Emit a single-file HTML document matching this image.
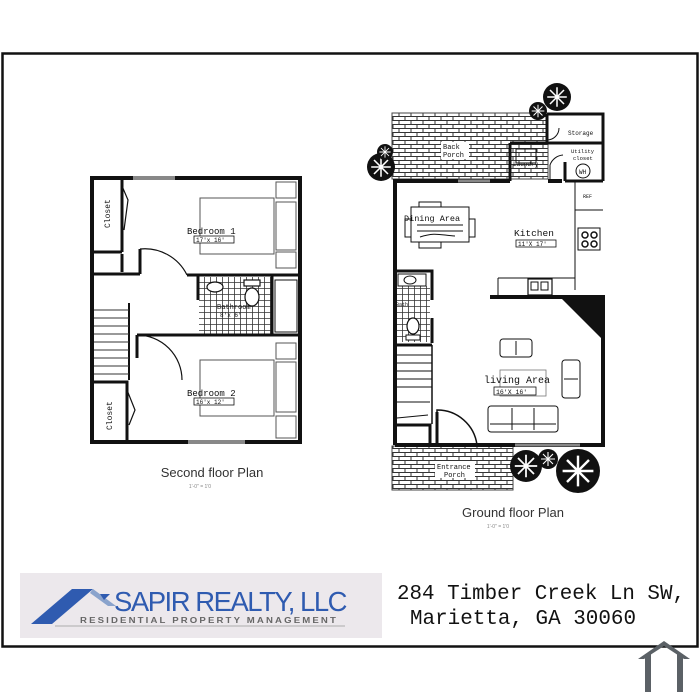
<!DOCTYPE html>
<html><head><meta charset="utf-8"><style>
html,body{margin:0;padding:0;background:#fff;width:700px;height:700px;overflow:hidden}
svg{display:block}
.m{font-family:"Liberation Mono",monospace;}
.s{font-family:"Liberation Sans",sans-serif;}
</style></head><body>
<svg width="700" height="700" viewBox="0 0 700 700" xmlns="http://www.w3.org/2000/svg">
<defs>
<pattern id="brick" width="12" height="8" patternUnits="userSpaceOnUse">
<rect width="12" height="8" fill="#fff"/>
<path d="M0 0.5H12M0 4.5H12M3 0.5V4.5M9 4.5V8" stroke="#333" stroke-width="1" fill="none"/>
</pattern>
<pattern id="tile" width="6" height="6" patternUnits="userSpaceOnUse">
<rect width="6" height="6" fill="#fff"/>
<path d="M0 0.5H6M0.5 0V6" stroke="#333" stroke-width="0.8"/>
</pattern>
<g id="tree"><circle r="10" fill="#111"/>
<path d="M-7 0H7M0-7V7M-5-5L5 5M-5 5L5-5" stroke="#fff" stroke-width="1.1"/></g>
</defs>
<rect x="2.5" y="53.5" width="695" height="593" fill="#fff" stroke="#111" stroke-width="2.5"/>

<!-- SECOND FLOOR -->
<g fill="none" stroke="#111">
<rect x="92" y="178" width="208" height="264" stroke-width="4"/>
<line x1="133" y1="178" x2="175" y2="178" stroke="#888" stroke-width="4"/>
<line x1="188" y1="442" x2="245" y2="442" stroke="#888" stroke-width="4"/>
<path d="M122 178V252M92 252H122M122 254V272M92 274H140M187 275H300" stroke-width="3"/>
<path d="M122 186L128 200L124 230" stroke-width="1.2"/>
<line x1="140" y1="249" x2="140" y2="274" stroke-width="3"/>
<path d="M140 249A47 47 0 0 1 187 275" stroke-width="1.2"/>
<rect x="199" y="277" width="73" height="57" fill="url(#tile)" stroke="none"/>
<path d="M198 275V300M137 335H300M272 275V335" stroke-width="3"/>
<rect x="275" y="280" width="22" height="52" stroke-width="1"/>
<ellipse cx="215" cy="287" rx="8" ry="5" fill="#fff" stroke-width="1.2"/>
<rect x="244" y="280" width="16" height="6" fill="#fff" stroke-width="1.2"/>
<ellipse cx="252" cy="297" rx="7" ry="9" fill="#fff" stroke-width="1.2"/>
<line x1="129" y1="303" x2="129" y2="380" stroke-width="2"/>
<path d="M137 335V357M137 335A45 45 0 0 1 182 380" stroke-width="1.2"/>
<line x1="137" y1="335" x2="137" y2="358" stroke-width="3"/>
<g stroke-width="1" stroke="#333">
<path d="M94 310H129M94 318H129M94 326H129M94 334H129M94 342H129M94 350H129M94 358H129M94 366H129M94 374H129"/></g>
<path d="M92 382H127V442" stroke-width="3"/>
<path d="M127 390L135 410L129 425" stroke-width="1.2"/>
<g stroke="#555" stroke-width="1">
<rect x="200" y="198" width="74" height="56"/>
<rect x="276" y="182" width="20" height="16"/><rect x="276" y="252" width="20" height="16"/>
<rect x="276" y="202" width="20" height="48"/>
<rect x="200" y="360" width="74" height="56"/>
<rect x="276" y="343" width="20" height="16"/><rect x="276" y="416" width="20" height="22"/>
<rect x="276" y="362" width="20" height="50"/>
</g>
</g>
<g class="m" font-size="9" fill="#111">
<text x="187" y="234">Bedroom 1</text>
<rect x="194" y="236" width="40" height="7" fill="#fff" stroke="#111" stroke-width="0.8"/>
<text x="196" y="242" font-size="6">17'x 16'</text>
<text x="187" y="396">Bedroom 2</text>
<rect x="194" y="398" width="40" height="7" fill="#fff" stroke="#111" stroke-width="0.8"/>
<text x="196" y="404" font-size="6">16'x 12'</text>
<text x="217" y="309" font-size="7">Bathroom</text>
<text x="220" y="317" font-size="6">8'x 6'</text>
<text transform="translate(110,228) rotate(-90)" font-size="8">Closet</text>
<text transform="translate(112,430) rotate(-90)" font-size="8">Closet</text>
</g>
<text x="212" y="477" class="s" font-size="13" fill="#333" text-anchor="middle">Second floor Plan</text>
<text x="200" y="488" class="s" font-size="5" fill="#888" text-anchor="middle">1'-0"     = 1'0</text>

<!-- GROUND FLOOR -->
<rect x="392" y="113" width="156" height="66" fill="url(#brick)" stroke="#444" stroke-width="1"/>
<rect x="392" y="446" width="121" height="44" fill="url(#brick)" stroke="#444" stroke-width="1"/>
<g fill="none" stroke="#111">
<path d="M395 445V181H510M548 181H562M568 297H603V445H395" stroke-width="4"/>
<line x1="458" y1="181" x2="490" y2="181" stroke="#888" stroke-width="3"/>
<line x1="515" y1="445" x2="580" y2="445" stroke="#888" stroke-width="3"/>
<path d="M547 114H603V181M547 114V143M510 143H603M510 143V181M565 162V181M565 181H603" stroke-width="3"/>
<path d="M547 140A12 12 0 0 0 559 128" stroke-width="1"/>
<path d="M550 181V165A15 15 0 0 1 563 155" stroke-width="1"/>
<rect x="516" y="149" width="20" height="14" stroke-width="1"/>
<circle cx="583" cy="171" r="7" stroke-width="1"/>
<path d="M575 182V210H603M575 210V290M498 278H575V290M498 278V297M575 290" stroke-width="1"/>
<line x1="490" y1="297" x2="575" y2="297" stroke-width="4"/>
<rect x="578" y="228" width="22" height="22" stroke-width="1"/>
<circle cx="585" cy="235" r="3" stroke-width="1.5"/><circle cx="594" cy="235" r="3" stroke-width="1.5"/>
<circle cx="585" cy="244" r="3" stroke-width="1.5"/><circle cx="594" cy="244" r="3" stroke-width="1.5"/>
<rect x="528" y="279" width="24" height="16" stroke-width="1.2"/>
<rect x="531" y="282" width="7" height="8" stroke-width="1"/><rect x="541" y="282" width="7" height="8" stroke-width="1"/>
<rect x="411" y="207" width="58" height="35" stroke-width="1"/>
<rect x="419" y="202" width="22" height="5" stroke-width="1"/><rect x="419" y="242" width="22" height="6" stroke-width="1"/>
<rect x="405" y="219" width="6" height="18" stroke-width="1"/><rect x="469" y="219" width="6" height="18" stroke-width="1"/>
<path d="M417 225H463M417 231H463M420 237C435 232 440 235 455 236" stroke-width="1"/>
<rect x="397" y="286" width="33" height="56" fill="url(#tile)" stroke="none"/>
<path d="M395 271H432V300M432 318V343M395 345H432" stroke-width="3"/>
<rect x="398" y="274" width="28" height="12" stroke-width="1"/>
<ellipse cx="410" cy="280" rx="6" ry="4" stroke-width="1"/>
<ellipse cx="413" cy="326" rx="6" ry="8" fill="#fff" stroke-width="1.2"/>
<rect x="406" y="335" width="14" height="5" fill="#fff" stroke-width="1"/>
<line x1="432" y1="345" x2="432" y2="424" stroke-width="1.5"/>
<path d="M397 355H432M397 363H432M397 371H432M397 379H432M397 387H432M395 402H430" stroke-width="1"/>
<path d="M395 425H430V445" stroke-width="3"/>
<path d="M397 418L428 415" stroke-width="1"/>
<path d="M437 445V410A40 40 0 0 1 477 445" stroke-width="1.5"/>
<line x1="437" y1="412" x2="437" y2="445" stroke-width="3"/>
<path d="M560 297L603 297L603 340Z" fill="#111" stroke="none"/>
<rect x="500" y="339" width="32" height="18" rx="3" stroke-width="1"/>
<line x1="516" y1="341" x2="516" y2="355" stroke-width="1"/>
<rect x="562" y="360" width="18" height="38" rx="3" stroke-width="1"/>
<line x1="564" y1="379" x2="578" y2="379" stroke-width="1"/>
<rect x="488" y="406" width="70" height="26" rx="3" stroke-width="1"/>
<path d="M512 408V430M534 408V430M490 424H556" stroke-width="1"/>
<rect x="500" y="370" width="46" height="26" stroke="#777" stroke-width="0.8"/>
</g>
<use href="#tree" transform="translate(557,97) scale(1.4)"/>
<use href="#tree" transform="translate(538,111) scale(0.9)"/>
<use href="#tree" transform="translate(381,167) scale(1.4)"/>
<use href="#tree" transform="translate(385,152) scale(0.8)"/>
<use href="#tree" transform="translate(526,466) scale(1.6)"/>
<use href="#tree" transform="translate(548,459) scale(1)"/>
<use href="#tree" transform="translate(578,471) scale(2.2)"/>
<g class="m" fill="#111">
<rect x="441" y="142" width="28" height="17" fill="#fff"/>
<text x="443" y="149" font-size="7">Back</text><text x="443" y="157" font-size="7">Porch</text>
<text x="568" y="135" font-size="6">Storage</text>
<text x="513" y="166" font-size="6">Laundry</text>
<text x="571" y="153" font-size="5.5">Utility</text><text x="573" y="160" font-size="5.5">closet</text>
<text x="579" y="174" font-size="6">WH</text>
<text x="583" y="198" font-size="5">REF</text>
<text x="404" y="221" font-size="8.5">Dining Area</text>
<text x="514" y="236" font-size="9.5">Kitchen</text>
<rect x="516" y="240" width="40" height="7" fill="#fff" stroke="#111" stroke-width="0.8"/>
<text x="518" y="246" font-size="6">11'X 17'</text>
<text x="484" y="383" font-size="10">living Area</text>
<rect x="494" y="387" width="42" height="8" fill="#fff" stroke="#111" stroke-width="0.8"/>
<text x="496" y="394" font-size="6.5">16'X 16'</text>
<rect x="435" y="461" width="40" height="17" fill="#fff"/>
<text x="437" y="469" font-size="7">Entrance</text><text x="444" y="477" font-size="7">Porch</text>
<text x="396" y="306" font-size="5">Bath</text>
</g>
<text x="513" y="517" class="s" font-size="13" fill="#333" text-anchor="middle">Ground floor Plan</text>
<text x="498" y="528" class="s" font-size="5" fill="#888" text-anchor="middle">1'-0"     = 1'0</text>

<!-- logo -->
<rect x="20" y="573" width="362" height="65" fill="#ece8ec"/>
<path d="M31 624L72 589H93L52 624Z" fill="#2f5bb0"/>
<path d="M93 589L116 606L108 606L90 593Z" fill="#8aa3cc"/>
<path d="M100 594L110 594L104 600Z" fill="#2f5bb0"/>
<text x="114" y="611" class="s" font-size="28" fill="#2f5bb0" letter-spacing="-1.5" textLength="232" lengthAdjust="spacingAndGlyphs">SAPIR REALTY, LLC</text>
<text x="80" y="623" class="s" font-size="8" font-weight="bold" fill="#666" letter-spacing="1.8" textLength="258" lengthAdjust="spacingAndGlyphs">RESIDENTIAL PROPERTY MANAGEMENT</text>
<line x1="55" y1="626" x2="345" y2="626" stroke="#999" stroke-width="0.8"/>
<text x="397" y="599" class="m" font-size="21" fill="#111" textLength="288" lengthAdjust="spacingAndGlyphs">284 Timber Creek Ln SW,</text>
<text x="410" y="624" class="m" font-size="21" fill="#111" textLength="226" lengthAdjust="spacingAndGlyphs">Marietta, GA 30060</text>
<path d="M638 659L664 641L690 659L684 659L664 646L644 659Z" fill="#5b6166"/>
<rect x="645" y="654" width="6" height="38" fill="#5b6166"/>
<rect x="677" y="654" width="6" height="38" fill="#5b6166"/>
</svg>
</body></html>
